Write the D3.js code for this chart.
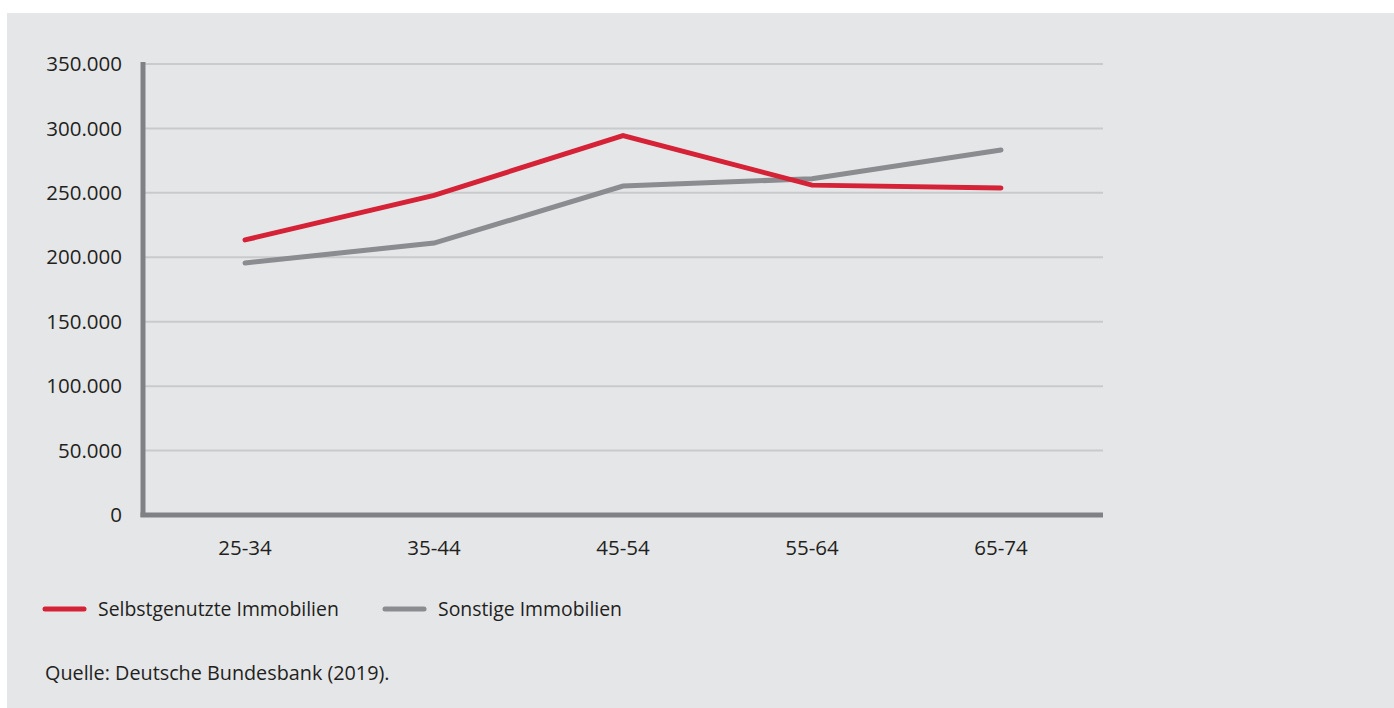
<!DOCTYPE html>
<html><head><meta charset="utf-8">
<script src="https://cdn.jsdelivr.net/npm/d3@7"></script>
<style>
html,body{margin:0;padding:0;background:#fff;}
svg{display:block;}
text{font-family:"Open Sans",sans-serif;fill:#231f20;}
</style></head>
<body>
<script>
const categories = ["25-34","35-44","45-54","55-64","65-74"];
const selbstgenutzt = [213500, 248000, 294500, 256000, 253800];
const sonstige = [195600, 211000, 255300, 261000, 283300];
const yTicks = [0,50000,100000,150000,200000,250000,300000,350000];
const seriesNames = ["Selbstgenutzte Immobilien","Sonstige Immobilien"];
const seriesColors = ["#d52236","#8b8c8f"];
const source = "Quelle: Deutsche Bundesbank (2019).";

const W=1394,H=708;
const svg=d3.select("body").append("svg").attr("width",W).attr("height",H);
svg.append("rect").attr("x",7).attr("y",13).attr("width",W-7).attr("height",H-13).attr("fill","#e5e6e8");

const x0=143,x1=1103,yTop=64,yBot=515;
const x=d3.scalePoint().domain(categories).range([x0,x1]).padding(0.54);
const y=d3.scaleLinear().domain([0,350000]).range([yBot,yTop]);
const fmt=d3.formatLocale({decimal:",",thousands:".",grouping:[3],currency:["","€"]}).format(",");

// grid
svg.append("g").selectAll("line").data(yTicks.filter(d=>d>0)).join("line")
 .attr("x1",x0).attr("x2",x1).attr("y1",d=>y(d)).attr("y2",d=>y(d))
 .attr("stroke","#c9cacc").attr("stroke-width",2);

// y labels
svg.append("g").selectAll("text").data(yTicks).join("text")
 .attr("x",122).attr("y",d=>y(d)).attr("dy","0.35em").attr("text-anchor","end")
 .attr("font-size",20.5).text(d=>fmt(d));

// x labels
svg.append("g").selectAll("text").data(categories).join("text")
 .attr("x",d=>x(d)).attr("y",548).attr("dy","0.35em").attr("text-anchor","middle")
 .attr("font-size",20.5).text(d=>d);

// axes
svg.append("line").attr("x1",x0).attr("x2",x0).attr("y1",yTop-2).attr("y2",yBot+2).attr("stroke","#808184").attr("stroke-width",5);
svg.append("line").attr("x1",x0-2.5).attr("x2",x1).attr("y1",yBot).attr("y2",yBot).attr("stroke","#808184").attr("stroke-width",5);

const line=d3.line().x((d,i)=>x(categories[i])).y(d=>y(d));
[sonstige,selbstgenutzt].forEach((s,k)=>{
  const c = k===0?seriesColors[1]:seriesColors[0];
  svg.append("path").attr("d",line(s)).attr("fill","none").attr("stroke",c)
   .attr("stroke-width",5).attr("stroke-linecap","round").attr("stroke-linejoin","miter");
});

// legend
const lg=[{x:43,tx:98},{x:383,tx:438}];
seriesNames.forEach((n,i)=>{
  svg.append("line").attr("x1",lg[i].x+2).attr("x2",lg[i].x+41).attr("y1",609).attr("y2",609)
   .attr("stroke",seriesColors[i]).attr("stroke-width",5).attr("stroke-linecap","round");
  svg.append("text").attr("x",lg[i].tx).attr("y",609).attr("dy","0.35em").attr("font-size",19.4).text(n);
});
svg.append("text").attr("x",45).attr("y",673).attr("dy","0.35em").attr("font-size",19.8).text(source);
</script>
</body></html>
